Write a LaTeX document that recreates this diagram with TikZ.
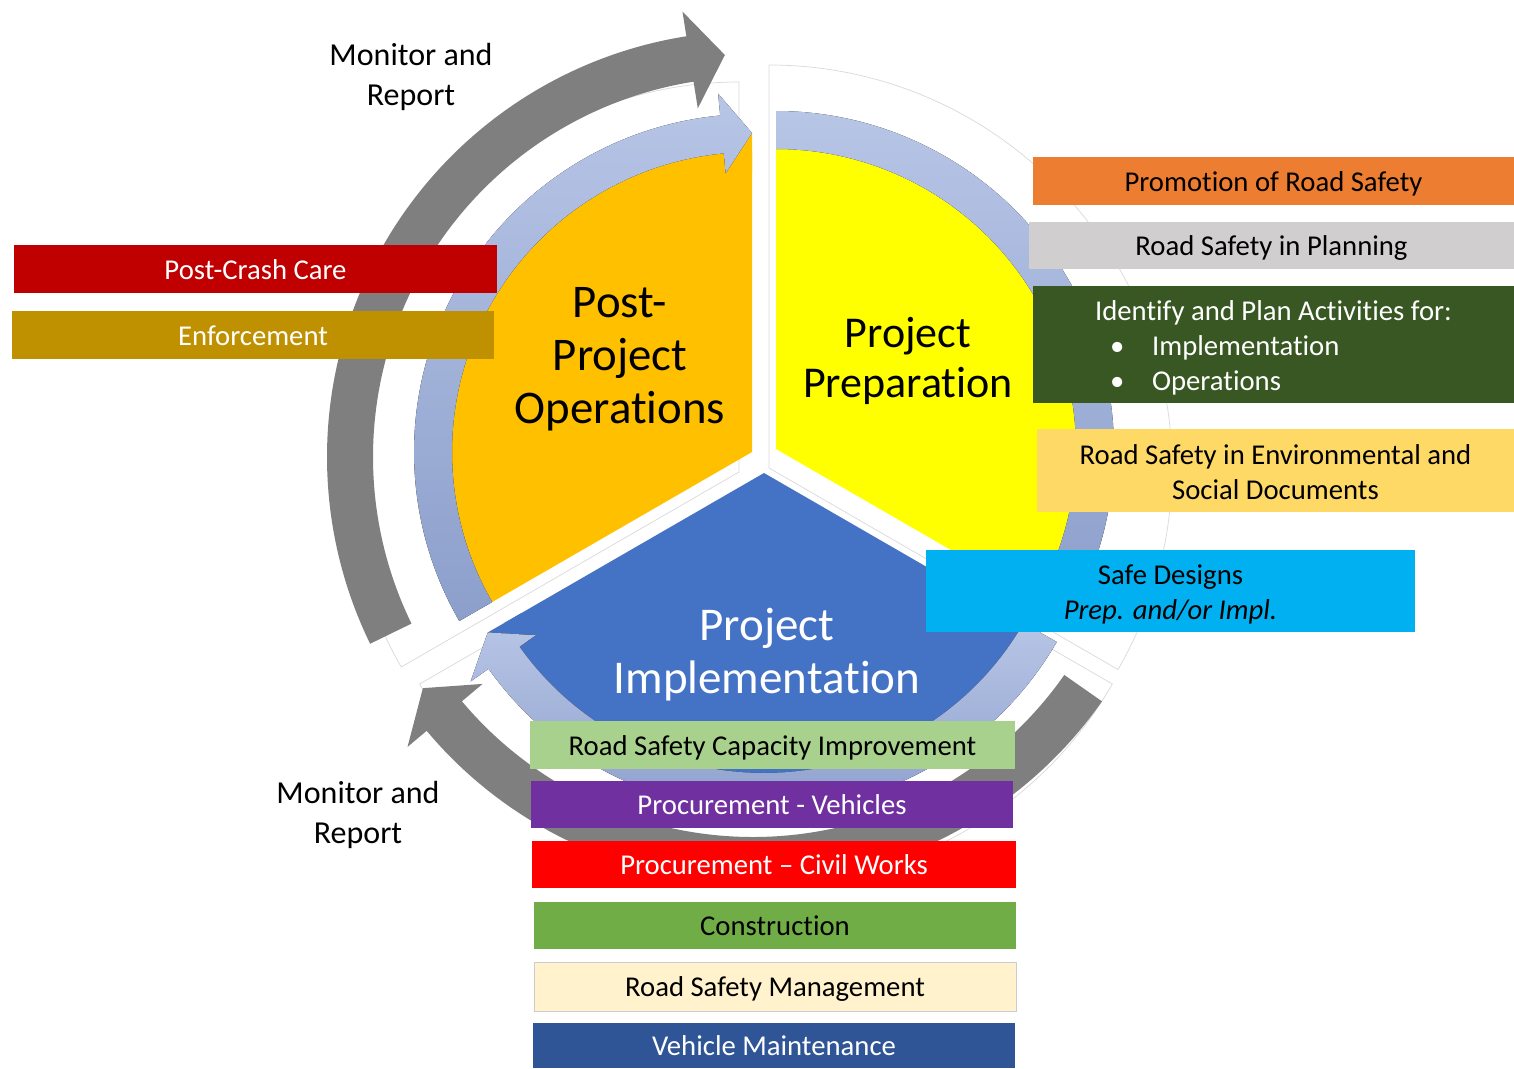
\documentclass[tikz,border=0pt]{standalone}
\usepackage{fontspec}
\setmainfont{Carlito}[Ligatures={TeX,NoCommon}]
\definecolor{orangesec}{HTML}{FFC000}
\definecolor{yellowsec}{HTML}{FFFF00}
\definecolor{bluesec}{HTML}{4472C4}
\definecolor{bandtop}{HTML}{B7C5E6}
\definecolor{bandbot}{HTML}{8C9FCB}
\definecolor{grayarrow}{HTML}{7F7F7F}
\definecolor{promocol}{HTML}{ED7D31}
\definecolor{plancol}{HTML}{D0CECE}
\definecolor{identcol}{HTML}{385723}
\definecolor{envcol}{HTML}{FFD966}
\definecolor{safecol}{HTML}{00B0F0}
\definecolor{crashcol}{HTML}{C00000}
\definecolor{enfcol}{HTML}{BF9000}
\definecolor{capcol}{HTML}{A9D18E}
\definecolor{vehcol}{HTML}{7030A0}
\definecolor{civilcol}{HTML}{FF0000}
\definecolor{constcol}{HTML}{70AD47}
\definecolor{mgmtcol}{HTML}{FFF2CC}
\definecolor{maintcol}{HTML}{2F5597}
\newcommand{\boxstrut}{\rule[-6pt]{0pt}{32pt}}
\newcommand{\tallstrut}{\rule{0pt}{28pt}}
\begin{document}
\begin{tikzpicture}[x=1pt,y=1pt,yscale=-1,xscale=1,
    band/.style={top color=bandtop,bottom color=bandbot,draw=none},
    ghost/.style={fill=white,draw=black!15,line width=0.7pt},
    box/.style={rectangle,inner sep=0pt,align=center,font=\fontsize{28.7}{35}\selectfont,
      execute at begin node=\boxstrut,execute at end node=\boxstrut}]
  \useasboundingbox (0,0) rectangle (1514,1068); % page size

  % Ghost sectors (faint outlines)
  \begin{scope}[shift={(739,472)}]
    \draw[ghost] (0,0) -- (-210:390) arc[start angle=-210,end angle=-90,radius=390] -- cycle;
  \end{scope}
  \begin{scope}[shift={(769,468)}]
    \draw[ghost] (0,0) -- (-90:403) arc[start angle=-90,end angle=30,radius=403] -- cycle;
  \end{scope}
  \begin{scope}[shift={(766,484)}]
    \draw[ghost] (0,0) -- (30:400) arc[start angle=30,end angle=150,radius=400] -- cycle;
  \end{scope}

  % Gray arrows (monitor and report)
  \begin{scope}[shift={(753,457)}]
    \fill[grayarrow] (-206:380) arc[start angle=-206,end angle=-99,radius=380]
      -- (-99:353) -- (-94:403) -- (-99:451) -- (-99:426)
      arc[start angle=-99,end angle=-206,radius=426] -- cycle; % Upper left
    \fill[grayarrow] (35:380) arc[start angle=35,end angle=140,radius=380]
      -- (140:353) -- (145:403) -- (140:451) -- (140:426)
      arc[start angle=140,end angle=35,radius=426] -- cycle; % Lower right
  \end{scope}

  % Post-Project Operations
  \begin{scope}[shift={(752,452)}]
    \fill[orangesec] (0,0) -- (-210:300) arc[start angle=-210,end angle=-90,radius=300] -- cycle;
    \fill[orangesec] (-95.4:280) -- (-90:319) -- (-90:280) -- cycle;
    \fill[band] (-210:300) arc[start angle=-210,end angle=-95.4,radius=300]
      -- (-95.4:280) -- (-90:319) -- (-95.4:360) -- (-95.4:338)
      arc[start angle=-95.4,end angle=-210,radius=338] -- cycle;
  \end{scope}

  % Project Preparation
  \begin{scope}[shift={(776,449)}]
    \fill[yellowsec] (0,0) -- (-90:300) arc[start angle=-90,end angle=30,radius=300] -- cycle;
    \fill[band] (-90:300) arc[start angle=-90,end angle=24.6,radius=300]
      -- (24.6:280) -- (30:319) -- (24.6:360) -- (24.6:338)
      arc[start angle=24.6,end angle=-90,radius=338] -- cycle;
  \end{scope}

  % Project Implementation
  \begin{scope}[shift={(764,473)}]
    \fill[bluesec] (0,0) -- (30:300) arc[start angle=30,end angle=150,radius=300] -- cycle;
    \fill[bluesec] (144.6:280) -- (150:319) -- (150:280) -- cycle;
    \fill[band] (30:300) arc[start angle=30,end angle=144.6,radius=300]
      -- (144.6:280) -- (150:319) -- (144.6:360) -- (144.6:338)
      arc[start angle=144.6,end angle=30,radius=338] -- cycle;
  \end{scope}

  % Sector labels
  \draw (620,359) node (postlbl) [align=center,font=\fontsize{46.8}{53}\selectfont] {Post-\\Project\\Operations};
  \draw (908,361) node (preplbl) [align=center,font=\fontsize{44}{50}\selectfont] {Project\\Preparation};
  \draw (767,655) node (impllbl) [align=center,text=white,font=\fontsize{47}{53}\selectfont] {Project\\Implementation};
  \draw (411,76.5) node (montop) [align=center,font=\fontsize{32}{40}\selectfont] {Monitor and\\Report};
  \draw (358,815) node (monbot) [align=center,font=\fontsize{32}{40}\selectfont] {Monitor and\\Report};

  % Preparation boxes
  \draw (1273.5,181) node (promo) [box,fill=promocol,minimum width=481,minimum height=48] {Promotion of Road Safety};
  \draw (1271.5,245.5) node (planning) [box,fill=plancol,minimum width=485,minimum height=47] {Road Safety in Planning};
  \draw (1273.5,344.5) node (identify) [box,fill=identcol,text=white,align=left,minimum width=481,minimum height=117]
    {\tallstrut Identify and Plan Activities for:\\\makebox[57pt][l]{\hspace*{15pt}\textbullet}Implementation\\\makebox[57pt][l]{\hspace*{15pt}\textbullet}Operations};
  \draw (1275.5,470.5) node (envdocs) [box,fill=envcol,minimum width=477,minimum height=83] {\tallstrut Road Safety in Environmental and\\Social Documents};
  \draw (1170.5,591) node (safedes) [box,fill=safecol,minimum width=489,minimum height=82] {\tallstrut Safe Designs\\\textit{Prep. and/or Impl.}};

  % Operations boxes
  \draw (255.5,269) node (postcrash) [box,fill=crashcol,text=white,minimum width=483,minimum height=48] {Post-Crash Care};
  \draw (253,335) node (enforce) [box,fill=enfcol,text=white,minimum width=482,minimum height=48] {Enforcement};

  % Implementation boxes
  \draw (772.5,745) node (capacity) [box,fill=capcol,minimum width=485,minimum height=48] {Road Safety Capacity Improvement};
  \draw (772,804.5) node (procveh) [box,fill=vehcol,text=white,minimum width=482,minimum height=47] {Procurement - Vehicles};
  \draw (774,864.5) node (proccivil) [box,fill=civilcol,text=white,minimum width=484,minimum height=47] {Procurement – Civil Works};
  \draw (775,925.5) node (construct) [box,fill=constcol,minimum width=482,minimum height=47] {Construction};
  \draw (775,986.5) node (rsmgmt) [box,fill=mgmtcol,draw=black!20,minimum width=482,minimum height=49] {Road Safety Management};
  \draw (774,1045.5) node (vehmaint) [box,fill=maintcol,text=white,minimum width=482,minimum height=45] {Vehicle Maintenance};
\end{tikzpicture}
\end{document}
